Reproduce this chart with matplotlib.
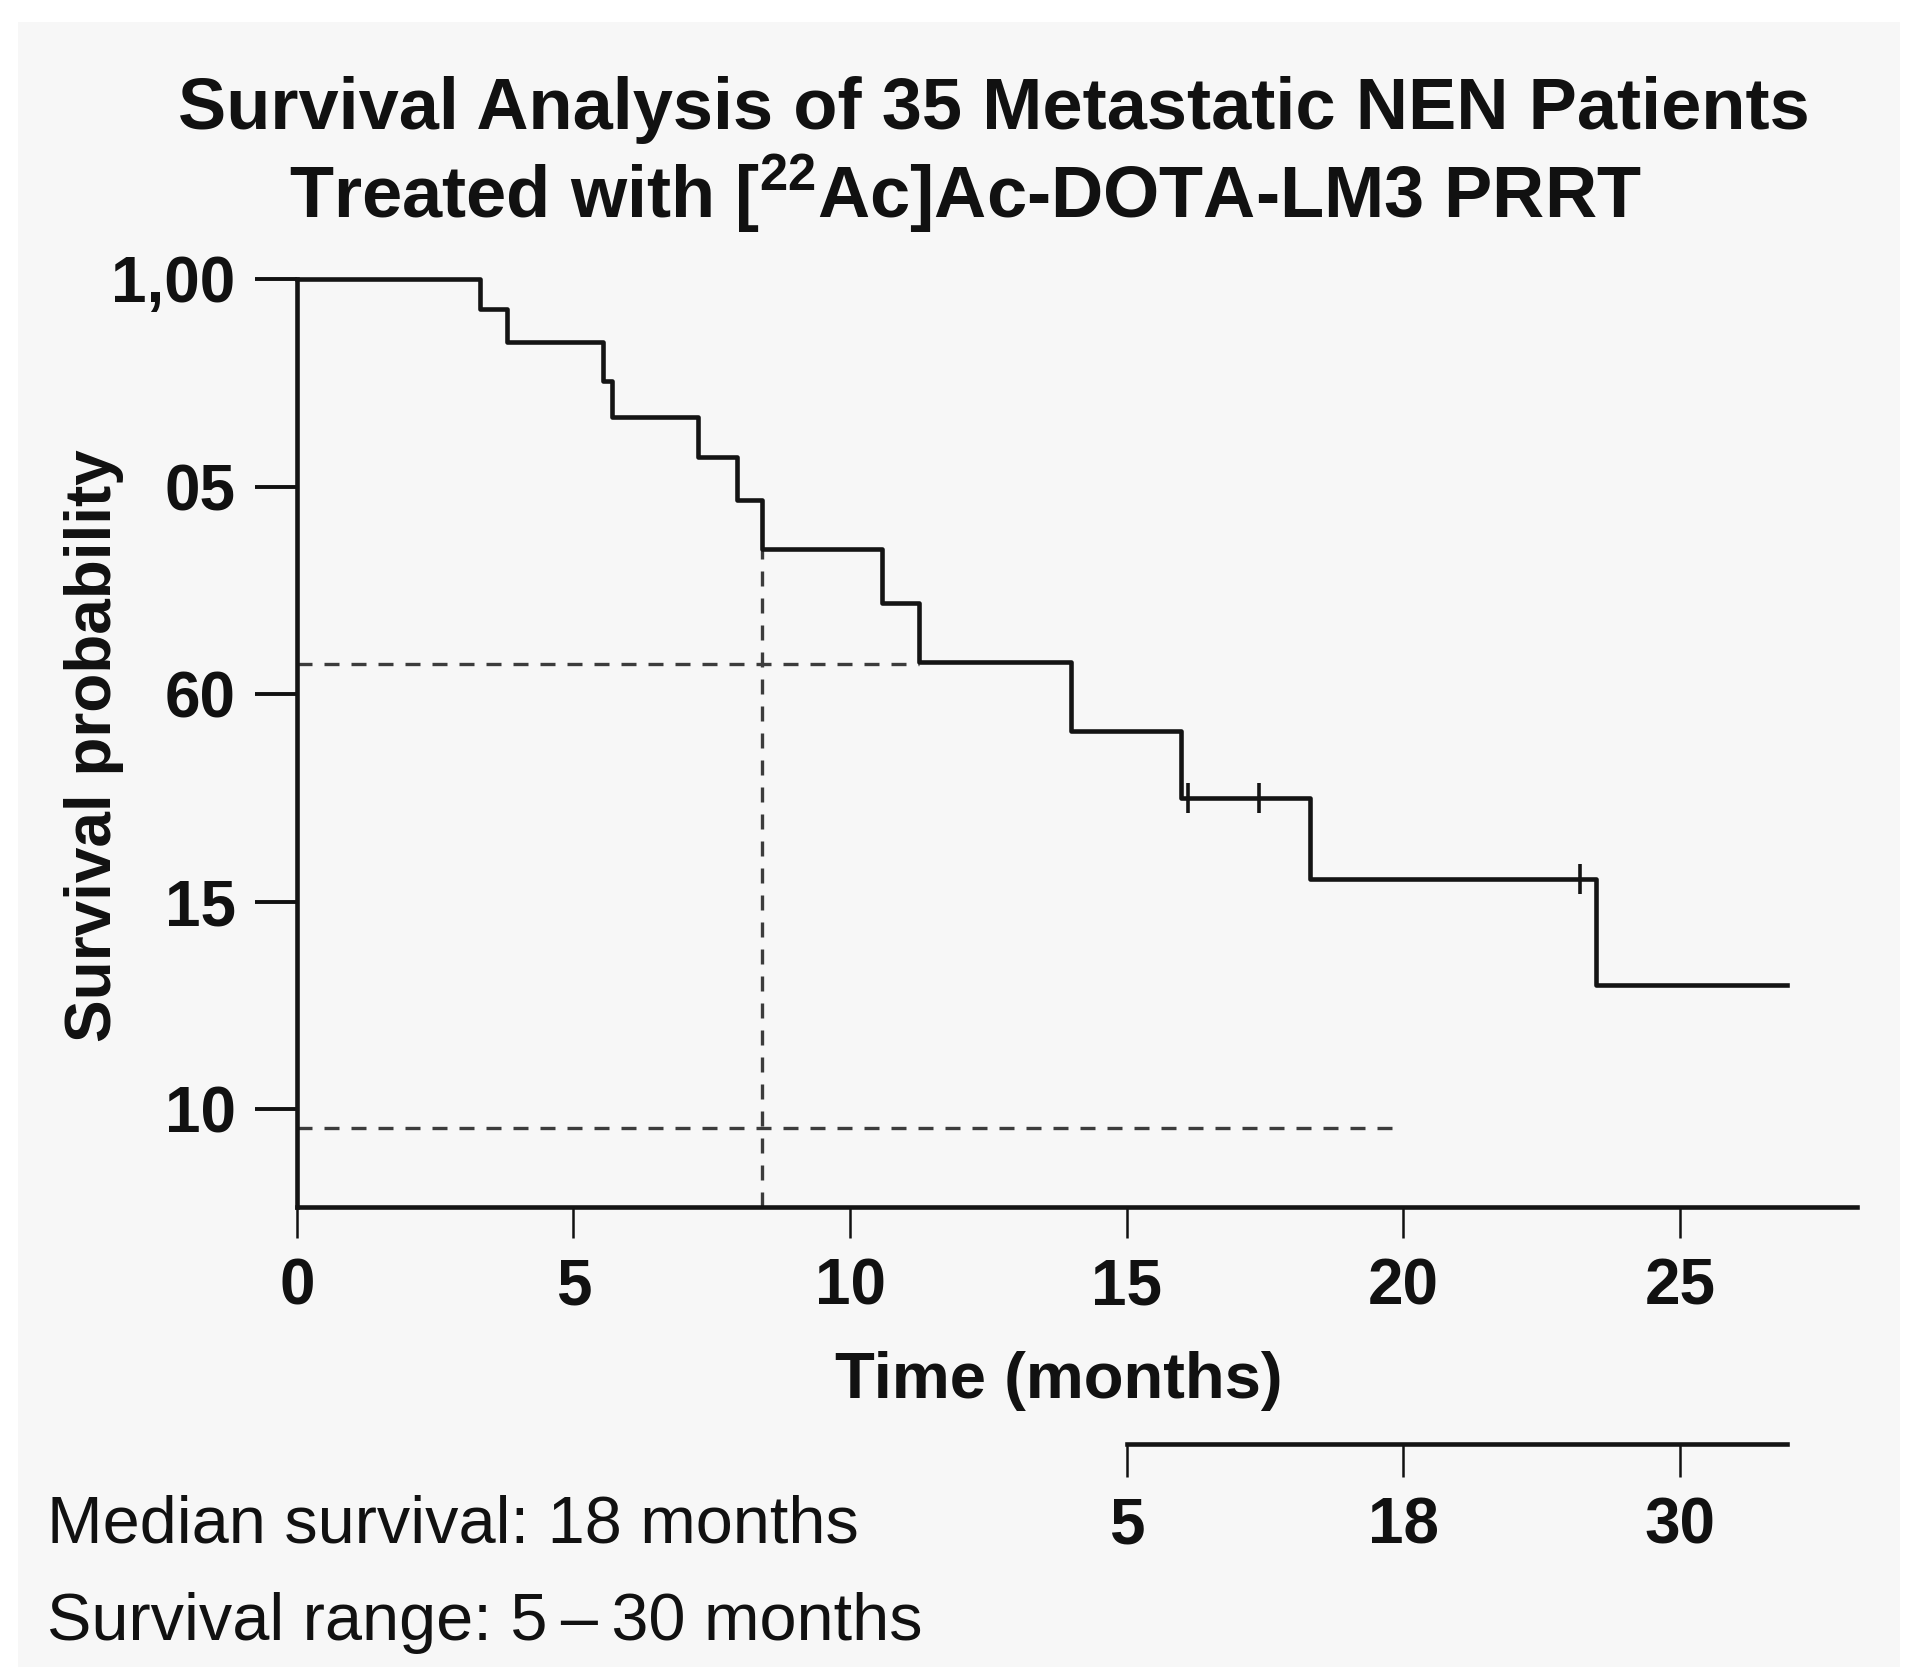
import numpy as np
import matplotlib
matplotlib.use("Agg")
import matplotlib.pyplot as plt
from matplotlib.patches import Rectangle

plt.rcParams['font.family'] = ['Liberation Sans', 'DejaVu Sans']

# Kaplan-Meier steps
event_times = [0, 3.31, 3.80, 5.54, 5.70, 7.26, 7.95, 8.41, 10.57, 11.24, 14.0, 15.98, 18.32, 23.48]
survival = [1.0, 0.971, 0.939, 0.902, 0.867, 0.828, 0.787, 0.740, 0.688, 0.631, 0.565, 0.500, 0.422, 0.320]
last_time = 26.93

censor_times = [16.1, 17.4, 23.2]
censor_surv = [0.500, 0.500, 0.422]

# reference lines
median_time = 8.41
median_top = 0.740
ref_level_hi = 0.629
ref_level_hi_end = 11.24
ref_level_lo = 0.182
ref_level_lo_end = 20.0

xticks = [0, 5, 10, 15, 20, 25]
yticks = [1.0, 0.8, 0.6, 0.4, 0.2]
ytick_labels = ['1,00', '05', '60', '15', '10']

range_ticks = [15, 20, 25]
range_labels = ['5', '18', '30']
range_line = (15, 26.93)

fig = plt.figure(figsize=(19.15, 16.8), dpi=100, facecolor='white')
fig.patches.append(Rectangle((0.0096, 0.008), 0.9824, 0.979, transform=fig.transFigure,
                             facecolor='#f7f7f7', edgecolor='none', zorder=-10))

ax = fig.add_axes([0.155, 0.2815, 0.8147, 0.5525])
ax.patch.set_alpha(0)
ax.set_xlim(0, 28.2)
ax.set_ylim(0.106, 1.0)

xs = event_times + [last_time]
ys = survival + [survival[-1]]
ax.step(xs, ys, where='post', color='#141414', lw=3.3, clip_on=False, zorder=3)
ax.plot(censor_times, censor_surv, ls='none', marker='|', markersize=22,
        markeredgewidth=2.6, color='#141414', zorder=4)

dash = dict(color='#3c3c3c', lw=2.4, dashes=(4.5, 3.6), zorder=2)
ax.plot([0, ref_level_hi_end], [ref_level_hi, ref_level_hi], **dash)
ax.plot([0, ref_level_lo_end], [ref_level_lo, ref_level_lo], **dash)
ax.plot([median_time, median_time], [0.106, median_top], **dash)

for s in ['top', 'right']:
    ax.spines[s].set_visible(False)
for s in ['left', 'bottom']:
    ax.spines[s].set_linewidth(3.3)
    ax.spines[s].set_color('#141414')

ax.set_xticks(xticks)
ax.set_xticklabels([str(t) for t in xticks], fontweight='bold')
ax.set_yticks(yticks)
ax.set_yticklabels(ytick_labels, fontweight='bold')
ax.tick_params(axis='x', length=22, width=1.8, pad=14, labelsize=46, colors='#111111')
ax.tick_params(axis='y', length=30, width=2.8, pad=14, labelsize=46, colors='#111111')

# survival range scale
ax2 = fig.add_axes([0.155, 0.1405, 0.8147, 0.0001])
ax2.patch.set_alpha(0)
ax2.set_xlim(0, 28.2)
ax2.set_yticks([])
for s in ['top', 'right', 'left']:
    ax2.spines[s].set_visible(False)
ax2.spines['bottom'].set_bounds(*range_line)
ax2.spines['bottom'].set_linewidth(3.3)
ax2.spines['bottom'].set_color('#141414')
ax2.set_xticks(range_ticks)
ax2.set_xticklabels(range_labels, fontweight='bold')
ax2.tick_params(axis='x', length=24, width=1.8, pad=14, labelsize=46, colors='#111111')

fig.text(0.519, 0.923, 'Survival Analysis of 35 Metastatic NEN Patients',
         ha='center', va='baseline', fontsize=52, fontweight='bold', color='#111111')
fig.text(0.504, 0.871, r'Treated with [$\mathregular{^{22}}$Ac]Ac-DOTA-LM3 PRRT',
         ha='center', va='baseline', fontsize=52, fontweight='bold', color='#111111')

fig.text(0.049, 0.556, 'Survival probability', rotation=90, ha='center', va='center',
         fontsize=46, fontweight='bold', color='#111111')
fig.text(0.553, 0.178, 'Time (months)', ha='center', va='center', fontsize=47,
         fontweight='bold', color='#111111')

fig.text(0.0244, 0.082, 'Median survival: 18 months', ha='left', va='baseline',
         fontsize=48, color='#111111')
fig.text(0.0244, 0.024, 'Survival range: 5\u2009\u2013\u200930 months', ha='left',
         va='baseline', fontsize=48, color='#111111')

fig.savefig('out.png', dpi=100, facecolor='white')
